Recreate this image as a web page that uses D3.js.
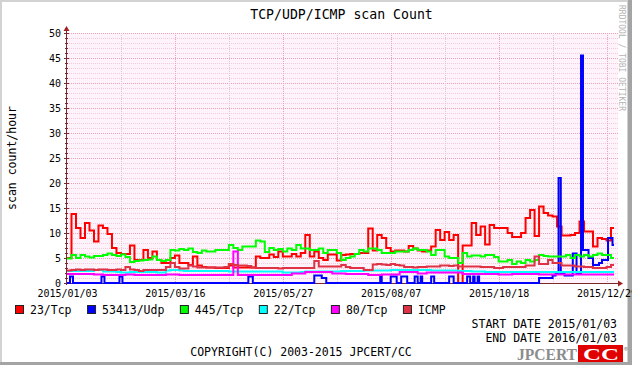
<!DOCTYPE html>
<html>
<head>
<meta charset="utf-8">
<script src="https://cdn.jsdelivr.net/npm/d3@7"></script>
<style>
  body { margin: 0; background: #fff; }
  text { font-family: "DejaVu Sans Mono", monospace; }
</style>
</head>
<body>
<svg width="632" height="365"></svg>
<script>
// period shown
const startDate = Date.UTC(2015, 0, 3),
  endDate = Date.UTC(2016, 0, 3);
const stepDays = 3; // grid series are sampled every 3 days

const seriesNames = ["23/Tcp", "53413/Udp", "445/Tcp", "22/Tcp", "80/Tcp", "ICMP"];
const seriesColors = ["#ff0000", "#0000ff", "#00ff00", "#00ffff", "#ff00ff", "#dd3344"];

// 23/Tcp, every 3 days
const tcp23 = [
  5, 13.8, 11, 9, 12, 10.5, 8.3, 11.5, 11, 9.8,
  7, 6, 5.8, 5.8, 7.5, 4.6, 4.6, 6.6, 5, 6.3,
  4.6, 4, 4, 5, 5.5, 4, 4, 3.6, 5.3, 3.5,
  3.2, 3.1, 3.1, 3, 3, 3, 3.5, 3.1, 3.1, 3.1,
  3.1, 3.1, 5.3, 5, 5, 5.7, 5.2, 6.3, 5.3, 5.3,
  5.8, 5.3, 6, 9.6, 5.3, 6.3, 5, 4.6, 5.7, 5.7,
  4.5, 5.6, 5.7, 5.8, 5.8, 6, 6, 10.9, 6.5, 9.6,
  9, 7, 6.3, 6.5, 6.5, 6.3, 7.4, 6.9, 6.5, 6.3,
  6.5, 7.3, 10.6, 8.6, 10.2, 8.6, 9.6, 0, 7.5, 7.5,
  12, 9.6, 11.3, 7.7, 11.6, 11, 11, 11, 10, 9.2,
  9.2, 10, 13, 14.6, 9.4, 15.3, 14, 13.5, 13.3, 11.3,
  9.5, 9.5, 9.6, 10, 12.3, 10.3, 10.3, 7.3, 9, 8.8,
  8.5, 11
];

// 445/Tcp, every 3 days
const tcp445 = [
  4.9, 5.6, 5, 5.6, 5.3, 5.1, 5.4, 5.4, 5.6, 5.9,
  5.6, 5.4, 5.7, 5.2, 4.2, 4.4, 4.5, 4.6, 4.7, 5.3,
  4.6, 4.4, 4.6, 6.6, 6.5, 6.8, 6.6, 6.9, 6.2, 6,
  6.5, 6.3, 6.3, 6.6, 6.6, 6.6, 7.6, 7, 6.6, 7.3,
  7.3, 7.3, 8.5, 8.3, 6.2, 7, 6.6, 6.8, 6.3, 6.9,
  6.6, 7.6, 6.9, 6.9, 6.6, 6.6, 6.9, 6, 6.6, 6.6,
  6, 4.6, 5, 5.3, 5.8, 6.6, 6.3, 6.9, 6.9, 6.6,
  6, 6, 6, 6.3, 6.3, 6.3, 6.6, 6.9, 6.6, 6.6,
  6.3, 5.6, 6.6, 6.6, 5.3, 5, 5, 4, 6, 5.3,
  5.5, 5.5, 5.3, 5.6, 5.6, 5.2, 4.3, 4.3, 4.6, 3.8,
  4.3, 4, 4.6, 4.3, 4.6, 5.6, 5.4, 5.3, 5.3, 5.3,
  5.3, 5.6, 5, 5.6, 5.3, 5.6, 5.3, 5.6, 5.9, 5.6,
  5.6, 5
];

// 22/Tcp, every 3 days
const tcp22 = [
  2.4, 2.4, 2.4, 2.4, 2.4, 2.4, 2.6, 2.6, 2.3, 2.3,
  2.3, 2.2, 2.1, 2.1, 2.2, 2.2, 2.2, 2.2, 2.2, 2.2,
  2.1, 2.1, 2.5, 2.6, 2.6, 2.5, 2.4, 2.4, 2.4, 2.4,
  2.4, 2.4, 2.4, 2.4, 2.4, 2.4, 2.3, 2.3, 2.3, 2.3,
  2.3, 2.3, 2.3, 2.3, 2.3, 2.3, 2.3, 2.3, 2.1, 2.1,
  2.1, 2.1, 2.2, 2.3, 2.3, 2.3, 2.3, 2.3, 2.3, 2.3,
  2.3, 2.4, 2.4, 2.4, 2.4, 2.4, 2.5, 2.5, 2.5, 2.5,
  2.5, 2.5, 2.6, 2.6, 2.6, 2.6, 2.6, 2.6, 2.6, 2.6,
  2.6, 2.5, 2.5, 2.5, 2.5, 2.5, 2.5, 2.4, 2.4, 2.4,
  2.3, 2.3, 2.3, 2.2, 2.2, 2.2, 2.2, 2.2, 2.2, 2.2,
  2.2, 2.2, 2.2, 2.2, 2.2, 2.2, 2.2, 2.2, 2.2, 2.2,
  2.2, 2.2, 2.2, 2.2, 2.2, 2.2, 2.2, 2.2, 2.2, 2.2,
  2.2, 2.2
];

// 80/Tcp, every 3 days
const tcp80 = [
  1.8, 1.8, 1.8, 1.8, 1.8, 1.8, 1.7, 1.7, 1.6, 1.6,
  1.6, 1.6, 1.6, 1.7, 1.7, 1.6, 1.6, 1.6, 1.6, 1.6,
  1.6, 1.6, 1.7, 1.7, 1.7, 1.6, 1.6, 1.6, 1.6, 1.6,
  1.6, 1.6, 1.6, 1.6, 1.6, 1.6, 1.6, 6.3, 1.6, 1.6,
  1.6, 1.6, 1.6, 1.6, 1.6, 1.6, 1.6, 1.6, 1.6, 1.6,
  1.9, 1.9, 1.9, 2.2, 2.2, 2.2, 2.2, 2.2, 2.2, 1.9,
  1.9, 1.9, 1.8, 1.8, 1.8, 1.8, 1.8, 1.6, 1.6, 1.6,
  1.7, 1.7, 1.7, 1.7, 2.2, 2.2, 2.2, 2.2, 1.9, 1.9,
  2.1, 2.1, 2.1, 2.1, 2.1, 2.1, 2.1, 2.1, 1.8, 1.8,
  1.8, 1.8, 1.8, 1.8, 1.8, 1.8, 1.7, 1.7, 1.7, 1.8,
  1.8, 1.8, 1.8, 1.8, 1.8, 1.7, 1.7, 1.7, 1.7, 1.7,
  1.7, 1.7, 1.7, 1.7, 1.7, 1.7, 1.7, 1.7, 1.7, 1.7,
  1.7, 1.7
];

// ICMP, every 3 days
const icmp = [
  2.5, 2.6, 2.7, 2.6, 2.7, 2.7, 2.6, 2.7, 2.7, 2.6,
  2.6, 2.7, 2.6, 3.2, 2.7, 2.6, 2.4, 2.6, 2.6, 2.6,
  2.6, 2.6, 3.2, 4, 3.2, 2.9, 2.9, 3.5, 3.3, 3.1,
  3.1, 3.1, 3.1, 3.1, 3.1, 3.2, 3.8, 3.6, 3.5, 3.5,
  3.4, 3.1, 3, 3, 3, 3, 3, 2.9, 3, 3,
  3, 3, 3, 3, 3, 4.4, 3.3, 3.3, 3.3, 3.3,
  3.3, 3.6, 3.2, 3, 3, 3, 2.6, 2.6, 3.7, 3.8,
  3.7, 3.6, 3.8, 3.6, 3.5, 3.2, 3.2, 3.1, 3.2, 3.2,
  3.3, 3.3, 3.3, 3.5, 3.5, 3.4, 3.5, 3.3, 3.3, 3.3,
  3.3, 3.3, 3.2, 3.2, 3.2, 3, 3, 3.2, 3.2, 3.2,
  3.2, 3.2, 3.5, 3.5, 5.3, 3.8, 3.8, 4.6, 4, 4,
  3.5, 3.5, 3.5, 3.3, 3.3, 3.2, 3.2, 3, 3, 3,
  3.2, 3.6
];

// 53413/Udp: [day, value] change points
const udp53413 = [
  [0, 0], [2, 1.3], [4, 0], [23, 1.3], [25, 0], [35, 1.3], [37, 0],
  [121, 1.3], [124, 0], [165, 1.5], [170, 1], [173, 0],
  [209, 1.3], [210, 0], [216, 1.3], [220, 0], [223, 1.3], [227, 0],
  [232, 1.3], [234, 0], [236, 1.3], [237, 0], [243, 1.3], [245, 0],
  [255, 1.3], [258, 0], [267, 1.3], [269, 0], [271, 1.3], [272, 0],
  [274, 1.3], [275, 0], [315, 1], [324, 1.5], [326, 2], [328, 21],
  [329.5, 1.9], [332, 1.5], [337.5, 5.9], [340, 2], [343, 45.5],
  [344.3, 6.6], [348, 5], [351, 3.6], [355, 4], [357, 4.6],
  [361, 9], [364, 7.6], [365, 7.6]
];

const yTicks = [0, 5, 10, 15, 20, 25, 30, 35, 40, 45, 50];

const toPairs = vals => vals.map((v, i) => [i * stepDays, v]).concat([[365, vals[vals.length - 1]]]);
const seriesData = [toPairs(tcp23), udp53413, toPairs(tcp445), toPairs(tcp22), toPairs(tcp80), toPairs(icmp)];

const svg = d3.select("svg");
const W = 632, H = 365;
const pLeft = 67, pRight = 614, pTop = 33, pBottom = 283;

const x = d3.scaleUtc().domain([startDate, endDate]).range([pLeft, pRight]);
const y = d3.scaleLinear().domain([0, 50]).range([pBottom, pTop]);
const dayX = d => x(startDate + d * 864e5);

// frame
svg.append("rect").attr("width", W).attr("height", H).attr("fill", "#a4a4a4");
svg.append("rect").attr("width", W - 4).attr("height", H - 3).attr("fill", "#d2d2d2");
svg.append("rect").attr("x", 2).attr("y", 2).attr("width", 625).attr("height", 360).attr("fill", "#fff");

// plot background
svg.append("rect").attr("x", pLeft).attr("y", pTop).attr("width", 618 - pLeft).attr("height", pBottom - pTop)
  .attr("fill", "#fff3fb");

// horizontal grid: minor every 1, major every 5
const grid = svg.append("g");
d3.range(1, 51).forEach(v => {
  const major = v % 5 === 0;
  grid.append("line")
    .attr("x1", pLeft).attr("x2", 618)
    .attr("y1", y(v) + 0.5).attr("y2", y(v) + 0.5)
    .attr("stroke", major ? "#eaa2b4" : "#f5cadb")
    .attr("stroke-dasharray", "1,1");
});
// vertical grid: minor every 36 days, major every 72
d3.range(36, 366, 36).forEach(d => {
  const major = d % 72 === 0;
  grid.append("line")
    .attr("x1", Math.round(dayX(d)) + 0.5).attr("x2", Math.round(dayX(d)) + 0.5)
    .attr("y1", pTop).attr("y2", pBottom)
    .attr("stroke", major ? "#eaa2b4" : "#ddc6d0")
    .attr("stroke-dasharray", "1,1");
});

// axes
const axisColor = "#7a2a2a";
svg.append("line").attr("x1", pLeft - 0.5).attr("x2", pLeft - 0.5).attr("y1", pBottom + 2).attr("y2", 29)
  .attr("stroke", axisColor);
svg.append("line").attr("x1", pLeft - 3).attr("x2", 619).attr("y1", pBottom + 0.5).attr("y2", pBottom + 0.5)
  .attr("stroke", axisColor);
svg.append("path").attr("d", `M${pLeft - 3.5},31 L${pLeft - 0.5},26 L${pLeft + 2.5},31 Z`).attr("fill", "#a02020");
svg.append("path").attr("d", `M618,${pBottom - 2.5} L623,${pBottom + 0.5} L618,${pBottom + 3.5} Z`).attr("fill", "#a02020");

// y ticks + labels
d3.range(0, 51).forEach(v => {
  const major = v % 5 === 0;
  svg.append("line")
    .attr("x1", major ? pLeft - 3 : pLeft - 2).attr("x2", pLeft + (major ? 2 : 1))
    .attr("y1", y(v) + 0.5).attr("y2", y(v) + 0.5)
    .attr("stroke", axisColor);
});
svg.append("g").selectAll("text").data(yTicks).enter().append("text")
  .attr("x", 61).attr("y", d => y(d) + 3.5)
  .attr("text-anchor", "end").attr("font-size", 10).attr("fill", "#000")
  .text(d => d);

// series
const line = d3.line().x(d => dayX(d[0])).y(d => y(d[1])).curve(d3.curveStepAfter);
const plot = svg.append("g");
seriesData.forEach((s, i) => {
  plot.append("path").datum(s)
    .attr("d", line)
    .attr("fill", "none")
    .attr("stroke", seriesColors[i])
    .attr("stroke-width", 2);
});

// x tick labels
const fmt = d3.utcFormat("%Y/%m/%d");
svg.append("g").selectAll("text").data(d3.range(0, 366, 72)).enter().append("text")
  .attr("x", d => dayX(d) + 0.5).attr("y", 297)
  .attr("text-anchor", "middle").attr("font-size", 10)
  .text(d => fmt(new Date(startDate + d * 864e5)));

// title and axis label
svg.append("text").attr("x", 341.5).attr("y", 18.5).attr("text-anchor", "middle")
  .attr("font-size", 13.2).text("TCP/UDP/ICMP scan Count");
svg.append("text").attr("transform", "translate(16,158) rotate(-90)").attr("text-anchor", "middle")
  .attr("font-size", 11.5).text("scan count/hour");
svg.append("text").attr("transform", "translate(619,5) rotate(90)").attr("font-size", 8)
  .attr("fill", "#b4b4b4").text("RRDTOOL / TOBI OETIKER");

// legend
const legend = svg.append("g");
let lx = 15;
seriesNames.forEach((name, i) => {
  legend.append("rect").attr("x", lx + 0.5).attr("y", 305.5).attr("width", 8).attr("height", 8)
    .attr("fill", seriesColors[i]).attr("stroke", "#222");
  const t = legend.append("text").attr("x", lx + 15).attr("y", 313.5).attr("font-size", 11.5).text(name);
  lx += 15 + t.node().getComputedTextLength() + 15.5;
});

svg.append("text").attr("x", 617).attr("y", 327.5).attr("text-anchor", "end").attr("font-size", 11.5)
  .text("START DATE " + fmt(new Date(startDate)));
svg.append("text").attr("x", 617).attr("y", 341.5).attr("text-anchor", "end").attr("font-size", 11.5)
  .text("END DATE " + fmt(new Date(endDate)));
svg.append("text").attr("x", 301).attr("y", 356).attr("text-anchor", "middle").attr("font-size", 11.5)
  .text("COPYRIGHT(C) 2003-2015 JPCERT/CC");

// JPCERT logo
const logo = svg.append("g");
logo.append("text").attr("x", 517).attr("y", 360).attr("font-size", 17)
  .style("font-family", "'Liberation Serif', serif").attr("font-weight", "bold")
  .attr("fill", "#8c8c8c").attr("textLength", 60).attr("lengthAdjust", "spacingAndGlyphs").text("JPCERT");
logo.append("rect").attr("x", 578).attr("y", 345).attr("width", 45).attr("height", 17).attr("fill", "#e00000");
logo.append("text").attr("x", 583).attr("y", 360).attr("font-size", 17)
  .style("font-family", "'Liberation Serif', serif").attr("font-weight", "bold")
  .attr("fill", "#fff").attr("textLength", 36).attr("lengthAdjust", "spacingAndGlyphs").text("CC");
logo.append("text").attr("x", 624).attr("y", 351).attr("font-size", 6).attr("fill", "#666").text("®");
</script>
</body>
</html>
